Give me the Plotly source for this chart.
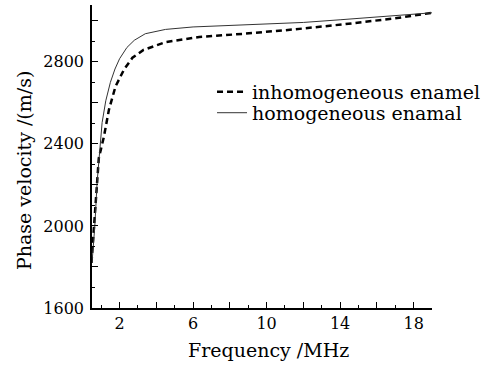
import plotly.graph_objects as go

freq_hom = [0.5, 0.65, 0.78, 0.93, 1.05, 1.25, 1.5, 1.75, 2.0, 2.4, 2.8, 3.4, 4.5, 6, 8, 10, 12, 14, 16, 18, 19]
v_hom = [1820, 1995, 2216, 2380, 2504, 2610, 2700, 2765, 2815, 2870, 2905, 2937, 2958, 2970, 2978, 2983, 2992, 3005, 3020, 3033, 3039]

freq_inh = [0.47, 0.6, 0.69, 0.87, 1.15, 1.42, 1.78, 2.24, 2.7, 3.3, 4.5, 6.33, 8.8, 11.5, 14.2, 17, 19]
v_inh = [1820, 1995, 2127, 2330, 2436, 2566, 2680, 2762, 2820, 2858, 2896, 2921, 2937, 2958, 2983, 3012, 3039]

x_tickvals = [2, 4, 6, 8, 10, 12, 14, 16, 18]
x_ticktext = ["2", "", "6", "", "10", "", "14", "", "18"]
y_tickvals = [1600, 1800, 2000, 2200, 2400, 2600, 2800, 3000]
y_ticktext = ["1600", "", "2000", "", "2400", "", "2800", ""]

FONT = "DejaVu Serif"

fig = go.Figure()
fig.add_trace(go.Scatter(x=freq_inh, y=v_inh, mode="lines", name="inhomogeneous enamel",
                         line=dict(color="black", width=2.5, dash="6px,4px"), legend="legend"))
fig.add_trace(go.Scatter(x=freq_hom, y=v_hom, mode="lines", name="homogeneous enamal",
                         line=dict(color="#333333", width=1), legend="legend2"))

leg_common = dict(x=0.353, xanchor="left", yanchor="middle", bgcolor="rgba(0,0,0,0)",
                  font=dict(family=FONT, size=19, color="black"), itemwidth=30,
                  borderwidth=0)

fig.update_layout(
    width=490, height=365,
    margin=dict(l=92, r=58, t=5, b=57),
    paper_bgcolor="white", plot_bgcolor="white",
    font=dict(family=FONT, size=16, color="black"),
    showlegend=True,
    legend=dict(y=0.713, **leg_common),
    legend2=dict(y=0.644, **leg_common),
    annotations=[
        dict(text="Frequency /MHz", xref="paper", yref="paper", x=0.518, y=-0.139,
             xanchor="center", yanchor="middle", showarrow=False,
             font=dict(family=FONT, size=19, color="black")),
        dict(text="Phase velocity /(m/s)", xref="paper", yref="paper", x=-0.2, y=0.452,
             xanchor="center", yanchor="middle", showarrow=False, textangle=-90,
             font=dict(family=FONT, size=19, color="black")),
    ],
)
fig.update_xaxes(
    range=[0.5, 19], showline=True, linecolor="black", linewidth=1.5,
    showgrid=False, zeroline=False,
    tickmode="array", tickvals=x_tickvals, ticktext=x_ticktext,
    ticks="inside", ticklen=6, tickcolor="black", tickwidth=1.2,
    tickfont=dict(family=FONT, size=16),
    minor=dict(dtick=1, ticks="inside", ticklen=3, tickcolor="black", tickwidth=1.2),
)
fig.update_yaxes(
    range=[1600, 3077], showline=True, linecolor="black", linewidth=1.5,
    showgrid=False, zeroline=False,
    tickmode="array", tickvals=y_tickvals, ticktext=y_ticktext,
    ticks="inside", ticklen=6, tickcolor="black", tickwidth=1.2,
    tickfont=dict(family=FONT, size=16), ticklabelstandoff=3,
    minor=dict(dtick=100, ticks="inside", ticklen=3, tickcolor="black", tickwidth=1.2),
)

fig.write_html("out.html")
